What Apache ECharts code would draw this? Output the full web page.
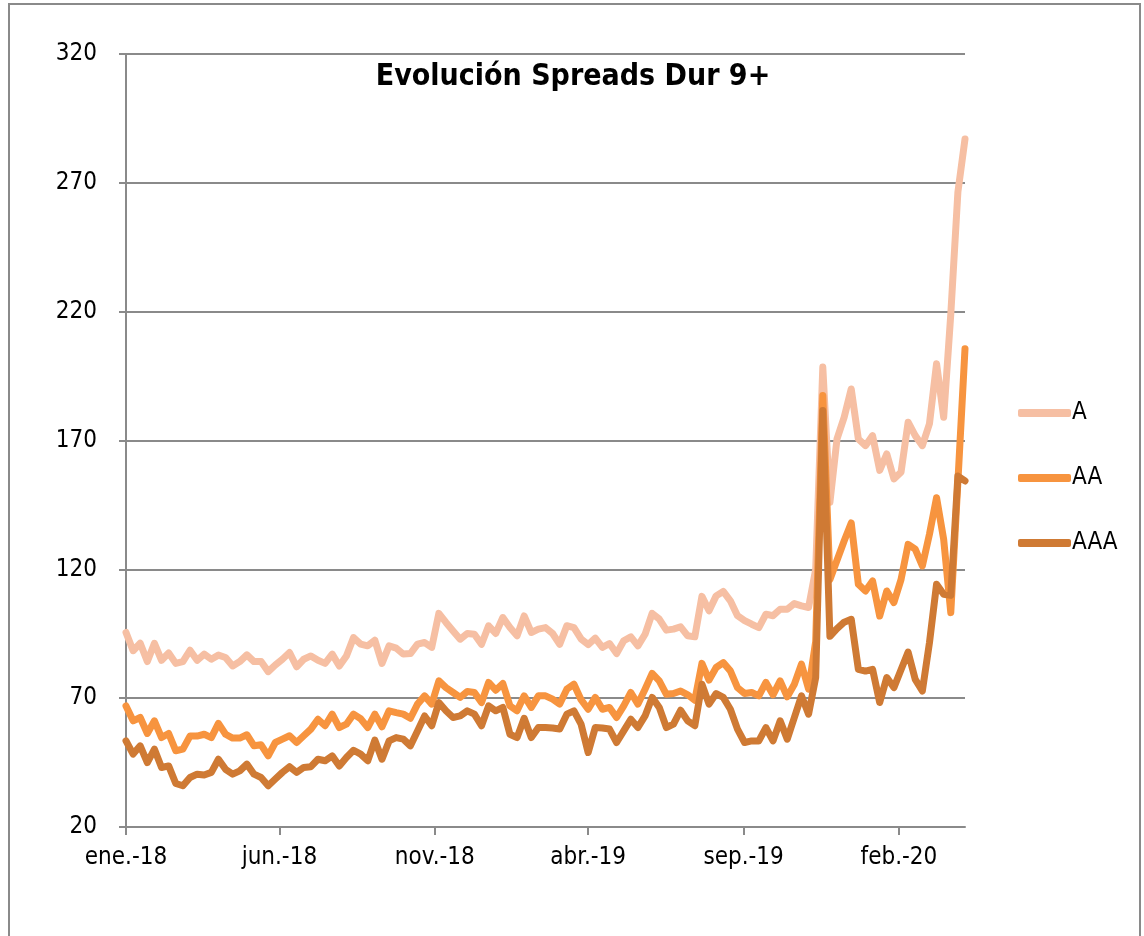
<!DOCTYPE html>
<html>
<head>
<meta charset="utf-8">
<script src="https://cdn.jsdelivr.net/npm/echarts@6/dist/echarts.min.js"></script>
<style>
  html, body { margin: 0; padding: 0; background: #ffffff; }
  #main { width: 1144px; height: 936px; }
</style>
</head>
<body>
<div id="main"></div>
<script>
// spreads semanales desde ene.-18
var spreadA = [
  95.5, 88.4, 91.3, 84.2, 91.3, 84.7, 87.5, 83.5, 84.2, 88.6,
  84.7, 87.1, 85.1, 86.7, 85.8, 82.5, 84.2, 86.8, 84.2, 84.2,
  80.3, 82.9, 85.1, 87.7, 82.2, 85.1, 86.4, 84.7, 83.5, 87.1,
  82.5, 86.4, 93.5, 91.0, 90.3, 92.5, 83.5, 90.3, 89.4, 87.1,
  87.3, 91.0, 91.6, 89.7, 102.9, 99.4, 96.1, 92.9, 95.1, 94.8,
  90.9, 98.1, 95.1, 101.3, 97.4, 94.2, 101.9, 95.5, 96.8, 97.4,
  95.1, 90.9, 98.1, 97.4, 93.0, 90.8, 93.3, 89.7, 91.2, 87.3,
  92.3, 93.8, 90.3, 94.8, 102.9, 100.7, 96.4, 96.8, 97.7, 94.2,
  93.8, 109.5, 103.9, 109.7, 111.4, 107.8, 102.0, 100.1, 98.7, 97.4,
  102.6, 102.0, 104.5, 104.5, 106.7, 105.8, 105.2, 120.0, 198.5, 146.0,
  170.6, 179.0, 190.0, 170.6, 168.0, 171.9, 158.4, 164.8, 155.1, 157.7,
  177.1, 171.9, 168.0, 176.5, 199.8, 179.0, 219.0, 266.4, 287.0
];
var spreadAA = [
  67.0, 61.2, 62.5, 56.3, 61.2, 54.7, 56.3, 49.6, 50.2, 55.3,
  55.3, 56.0, 54.7, 60.2, 56.0, 54.5, 54.5, 55.8, 51.5, 51.9,
  47.6, 52.8, 54.1, 55.4, 52.8, 55.4, 58.0, 61.8, 59.3, 63.8,
  58.6, 59.9, 63.8, 62.0, 58.6, 63.8, 58.9, 65.1, 64.4, 63.8,
  62.2, 67.7, 70.9, 67.7, 76.7, 74.1, 72.2, 70.3, 72.6, 72.2,
  68.3, 76.1, 73.1, 75.7, 67.0, 65.1, 70.9, 66.4, 70.9, 70.9,
  69.6, 67.7, 73.5, 75.4, 69.4, 65.7, 70.3, 65.7, 66.4, 62.5,
  67.0, 72.2, 67.7, 73.5, 79.6, 76.7, 71.5, 71.8, 72.8, 71.3,
  69.2, 83.5, 77.0, 81.9, 83.8, 80.6, 74.1, 71.8, 72.2, 70.9,
  76.1, 71.3, 76.7, 70.5, 75.4, 83.2, 73.5, 92.0, 187.5, 116.0,
  123.5, 131.0, 138.0, 114.2, 111.6, 115.5, 101.9, 111.6, 107.1, 116.0,
  129.7, 127.8, 121.3, 133.6, 147.8, 131.6, 103.2, 154.0, 205.6
];
var spreadAAA = [
  53.4, 48.3, 51.5, 45.0, 50.2, 43.1, 43.7, 36.9, 36.0, 39.2,
  40.5, 40.2, 41.2, 46.3, 42.4, 40.5, 41.8, 44.4, 40.5, 39.2,
  36.0, 38.6, 41.2, 43.4, 41.2, 43.1, 43.4, 46.3, 45.7, 47.6,
  43.7, 47.0, 49.8, 48.3, 45.7, 53.7, 46.3, 53.4, 54.7, 54.1,
  51.5, 57.3, 63.1, 59.3, 68.3, 65.1, 62.5, 63.1, 65.1, 63.8,
  59.3, 67.0, 65.1, 66.4, 56.0, 54.7, 62.2, 54.7, 58.6, 58.6,
  58.4, 58.0, 63.8, 65.1, 59.9, 48.9, 58.6, 58.4, 58.0, 52.8,
  57.3, 61.8, 58.6, 63.1, 70.3, 66.4, 58.6, 59.9, 65.3, 61.2,
  59.3, 75.4, 67.7, 71.8, 70.3, 65.7, 58.0, 52.8, 53.4, 53.4,
  58.6, 53.4, 61.2, 54.1, 62.5, 70.9, 63.8, 78.0, 181.6, 94.0,
  97.0, 99.5, 100.6, 81.2, 80.5, 81.2, 68.3, 78.0, 74.1, 81.0,
  87.9, 77.3, 72.8, 91.5, 114.2, 110.3, 109.9, 156.2, 154.3
];
var seriesNames = ['A', 'AA', 'AAA'];
var seriesColors = ['#F6BFA3', '#F7943F', '#CF7A34'];
var tickMonths = ['2018-01', '2018-06', '2018-11', '2019-04', '2019-09', '2020-02'];
var mesesCortos = ['ene', 'feb', 'mar', 'abr', 'may', 'jun', 'jul', 'ago', 'sep', 'oct', 'nov', 'dic'];
var yTicks = [20, 70, 120, 170, 220, 270, 320];

// fechas semanales
var semanas = [];
for (var i = 0; i < spreadA.length; i++) {
  semanas.push(new Date(2018, 0, 1 + 7 * i).getTime());
}
var tickValues = tickMonths.map(function (m) {
  var p = m.split('-');
  return new Date(+p[0], +p[1] - 1, 1).getTime();
});

function pares(vals) {
  return vals.map(function (v, i) { return [semanas[i], v]; });
}

var fuente = "'DejaVu Sans Condensed', 'Liberation Sans Narrow', 'Open Sans', sans-serif";
var gris = '#8A8A8A';

var myChart = echarts.init(document.getElementById('main'));
var option = {
  backgroundColor: '#ffffff',
  animation: false,
  title: {
    text: 'Evolución Spreads Dur 9+',
    left: 568,
    textAlign: 'center',
    top: 57,
    textStyle: {
      fontFamily: fuente,
      fontSize: 30,
      fontWeight: 'bold',
      color: '#000000'
    }
  },
  legend: {
    orient: 'vertical',
    left: 1013,
    top: 396,
    itemWidth: 53,
    itemHeight: 8,
    itemGap: 41,
    icon: 'roundRect',
    data: seriesNames,
    textStyle: {
      fontFamily: fuente,
      fontSize: 24,
      lineHeight: 24,
      color: '#000000',
      padding: [0, 0, 0, -4]
    }
  },
  grid: {
    left: 126,
    right: 179,
    top: 54,
    bottom: 109
  },
  xAxis: {
    type: 'value',
    min: semanas[0],
    max: semanas[semanas.length - 1],
    axisLine: { lineStyle: { color: gris, width: 2 } },
    axisTick: {
      show: true,
      customValues: tickValues,
      length: 8,
      lineStyle: { color: gris, width: 2 }
    },
    axisLabel: {
      customValues: tickValues,
      margin: 19,
      fontFamily: fuente,
      fontSize: 24,
      color: '#000000',
      formatter: function (val) {
        var d = new Date(val);
        return mesesCortos[d.getMonth()] + '.-' + String(d.getFullYear()).slice(2);
      }
    },
    splitLine: { show: false }
  },
  yAxis: {
    type: 'value',
    min: yTicks[0],
    max: yTicks[yTicks.length - 1],
    interval: 50,
    axisLine: { show: true, lineStyle: { color: gris, width: 2 } },
    axisTick: { show: true, length: 7, lineStyle: { color: gris, width: 2 } },
    axisLabel: {
      margin: 29,
      fontFamily: fuente,
      fontSize: 24,
      color: '#000000'
    },
    splitLine: { show: true, lineStyle: { color: gris, width: 2 } }
  },
  graphic: [{
    type: 'rect',
    shape: { x: 9, y: 4, width: 1131, height: 960 },
    style: { fill: 'none', stroke: gris, lineWidth: 2 },
    silent: true
  }],
  series: [spreadA, spreadAA, spreadAAA].map(function (vals, idx) {
    return {
      name: seriesNames[idx],
      type: 'line',
      symbol: 'none',
      color: seriesColors[idx],
      lineStyle: { width: 7, color: seriesColors[idx], cap: 'round', join: 'round' },
      data: pares(vals)
    };
  })
};
myChart.setOption(option);
</script>
</body>
</html>
